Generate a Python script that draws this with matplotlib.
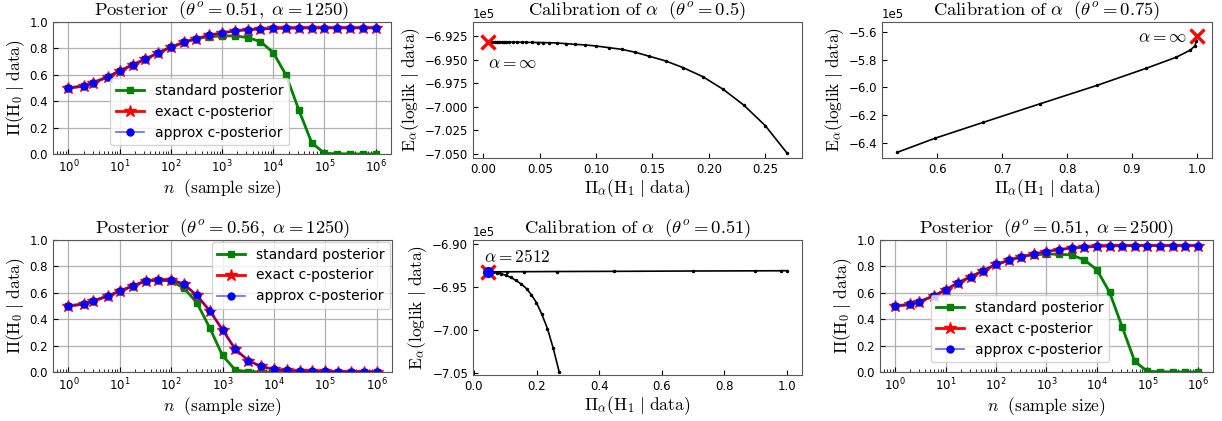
"""Posterior vs c-posterior, and calibration of alpha (six panels)."""

import matplotlib
matplotlib.use("Agg")
import matplotlib.pyplot as plt
import matplotlib.ticker as mticker
import numpy as np

plt.rcParams["mathtext.fontset"] = "cm"
plt.rcParams["font.family"] = "DejaVu Sans"
plt.rcParams["axes.edgecolor"] = "0.35"
plt.rcParams["xtick.direction"] = "in"
plt.rcParams["ytick.direction"] = "in"

# ---- posterior panels: sample sizes (4 per decade) ----
N_VALUES = [1, 2, 3, 6, 10, 18, 32, 56, 100, 178, 316, 562, 1000, 1778, 3162,
            5623, 10000, 17783, 31623, 56234, 100000, 177828, 316228, 562341, 1000000]

# theta=0.51, alpha=1250
STD_051_1250 = [0.50, 0.515, 0.54, 0.585, 0.63, 0.675, 0.72, 0.765, 0.81, 0.845, 0.875,
                0.888, 0.895, 0.895, 0.882, 0.852, 0.768, 0.598, 0.333, 0.086, 0.005,
                0.002, 0.001, 0.0, 0.0]
EXACT_051_1250 = [0.50, 0.515, 0.54, 0.585, 0.63, 0.675, 0.72, 0.765, 0.81, 0.845, 0.875,
                  0.90, 0.918, 0.932, 0.941, 0.947, 0.951, 0.953, 0.954, 0.955, 0.955,
                  0.955, 0.955, 0.955, 0.955]
APPROX_051_1250 = EXACT_051_1250

# theta=0.56, alpha=1250
STD_056_1250 = [0.50, 0.515, 0.538, 0.577, 0.613, 0.652, 0.69, 0.695, 0.69, 0.635, 0.525,
                0.335, 0.125, 0.015, 0.003, 0.0, 0.0, 0.0, 0.0, 0.0, 0.0, 0.0, 0.0, 0.0, 0.0]
EXACT_056_1250 = [0.50, 0.515, 0.538, 0.577, 0.613, 0.652, 0.69, 0.695, 0.70, 0.665, 0.58,
                  0.465, 0.32, 0.172, 0.087, 0.042, 0.02, 0.012, 0.008, 0.005, 0.004,
                  0.003, 0.002, 0.002, 0.001]
APPROX_056_1250 = EXACT_056_1250

# theta=0.51, alpha=2500
STD_051_2500 = [0.50, 0.512, 0.532, 0.578, 0.622, 0.677, 0.722, 0.768, 0.815, 0.845, 0.874,
                0.888, 0.893, 0.893, 0.886, 0.850, 0.774, 0.605, 0.342, 0.080, 0.005,
                0.002, 0.001, 0.0, 0.0]
EXACT_051_2500 = [0.50, 0.512, 0.532, 0.578, 0.622, 0.677, 0.722, 0.768, 0.815, 0.845, 0.874,
                  0.894, 0.912, 0.928, 0.939, 0.945, 0.952, 0.955, 0.957, 0.958, 0.958,
                  0.958, 0.958, 0.958, 0.958]
APPROX_051_2500 = EXACT_051_2500

# ---- calibration panels (E in units of 1e5) ----
CAL050_X = [0.004, 0.006, 0.008, 0.010, 0.012, 0.014, 0.016, 0.018, 0.020, 0.023,
            0.026, 0.030, 0.034, 0.038, 0.043, 0.048, 0.053, 0.058, 0.065, 0.073,
            0.081, 0.0905, 0.100, 0.111, 0.1226, 0.1347, 0.1473, 0.1617, 0.1772,
            0.1946, 0.2126, 0.2311, 0.2503, 0.2695]
CAL050_E = [-6.9313, -6.9313, -6.9313, -6.9313, -6.9313, -6.9313, -6.9314, -6.9314,
            -6.9314, -6.9315, -6.9315, -6.9316, -6.9316, -6.9317, -6.9318, -6.9319,
            -6.9320, -6.9321, -6.9324, -6.9331, -6.9338, -6.9345, -6.9356, -6.9373,
            -6.9391, -6.9422, -6.9465, -6.9514, -6.9585, -6.9680, -6.9813, -6.9982,
            -7.0201, -7.0490]

CAL075_X = [0.538, 0.597, 0.671, 0.758, 0.846, 0.921, 0.968, 0.990, 0.997, 0.999, 1.0]
CAL075_E = [-6.464, -6.362, -6.249, -6.117, -5.985, -5.864, -5.784, -5.732, -5.701,
            -5.666, -5.631]

CAL051_X_LOW = [0.0447, 0.047, 0.050, 0.053, 0.0587, 0.0747, 0.0853, 0.1013, 0.1173,
                0.1333, 0.1515, 0.1685, 0.1835, 0.1995, 0.2165, 0.2347, 0.2528, 0.272]
CAL051_E_LOW = [-6.9323, -6.9323, -6.9324, -6.9325, -6.9327, -6.9335, -6.9343, -6.9362,
                -6.9386, -6.9421, -6.9465, -6.9520, -6.9591, -6.9681, -6.9815, -6.9984,
                -7.0209, -7.0488]
CAL051_X_HIGH = [0.0447, 0.050, 0.060, 0.080, 0.107, 0.160, 0.265, 0.446, 0.699, 0.899,
                 0.982, 1.0]
CAL051_E_HIGH = [-6.9323, -6.9323, -6.9322, -6.9322, -6.9321, -6.9320, -6.9318, -6.9316,
                 -6.9312, -6.9310, -6.9309, -6.9308]
SCALE = 1e5

YLAB_POST = r"$\Pi(\mathrm{H}_0\ |\ \mathrm{data})$"
XLAB_POST = r"$n\ \ (\mathrm{sample\ size})$"
YLAB_CAL = r"$\mathrm{E}_\alpha(\mathrm{loglik}\ |\ \mathrm{data})$"
XLAB_CAL = r"$\Pi_\alpha(\mathrm{H}_1\ |\ \mathrm{data})$"

TITLE_FS = 13.4
LABEL_FS = 12.5
TICK_FS = 8.5


def posterior_panel(ax, std, exact, approx, title, legend_kw):
    ax.plot(N_VALUES, std, color="green", marker="s", ms=4.5, lw=2,
            label="standard posterior")
    ax.plot(N_VALUES, exact, color="red", marker="*", ms=9, lw=2,
            label="exact c-posterior")
    ax.plot(N_VALUES, approx, color=(0, 0, 1, 0.6), marker="o", ms=5,
            mfc="blue", mec="blue", lw=1.2, label="approx c-posterior")
    ax.set_xscale("log")
    ax.set_ylim(0, 1)
    ax.set_xticks([10.0 ** k for k in range(7)])
    ax.yaxis.set_major_locator(mticker.MultipleLocator(0.2))
    ax.grid(True, color="#b0b0b0", lw=0.9)
    ax.set_axisbelow(True)
    ax.tick_params(labelsize=TICK_FS)
    ax.set_title(title, fontsize=TITLE_FS, pad=2)
    ax.set_xlabel(XLAB_POST, fontsize=LABEL_FS, labelpad=1)
    ax.set_ylabel(YLAB_POST, fontsize=LABEL_FS, labelpad=2)
    ax.legend(fontsize=10, borderaxespad=0, handlelength=2.0, **legend_kw)


def calib_panel(ax, title, ystep, ylim):
    ax.set_title(title, fontsize=TITLE_FS, pad=2)
    ax.set_xlabel(XLAB_CAL, fontsize=LABEL_FS, labelpad=1)
    ax.set_ylabel(YLAB_CAL, fontsize=LABEL_FS, labelpad=2)
    ax.yaxis.set_major_locator(mticker.MultipleLocator(ystep * SCALE))
    ax.ticklabel_format(axis="y", style="sci", scilimits=(0, 0), useOffset=False)
    ax.set_ylim(ylim[0] * SCALE, ylim[1] * SCALE)
    ax.tick_params(labelsize=TICK_FS)
    ax.yaxis.get_offset_text().set_fontsize(TICK_FS)


def e(vals):
    return np.array(vals) * SCALE


fig = plt.figure(figsize=(12.22, 4.21), dpi=100)

# top-left
ax = fig.add_axes([0.0434, 0.6342, 0.2766, 0.3135])
posterior_panel(ax, STD_051_1250, EXACT_051_1250, APPROX_051_1250,
                r"$\mathrm{Posterior}\ \ (\theta^o = 0.51,\ \alpha = 1250)$",
                dict(loc="lower left", bbox_to_anchor=(0.17, 0.065)))

# top-middle
ax = fig.add_axes([0.3871, 0.6247, 0.2692, 0.323])
ax.plot(CAL050_X, e(CAL050_E), color="black", marker=".", ms=3, lw=1.2)
ax.plot(CAL050_X[0], CAL050_E[0] * SCALE, marker="x", color="red", ms=10, mew=2.4)
ax.text(0.004, -6.954 * SCALE, r"$\alpha = \infty$", fontsize=12.5, va="center")
calib_panel(ax, r"$\mathrm{Calibration\ of}\ \alpha\ \ (\theta^o = 0.5)$",
            0.025, (-7.0542, -6.9102))

# top-right
ax = fig.add_axes([0.7218, 0.6247, 0.270, 0.3230])
ax.plot(CAL075_X, e(CAL075_E), color="black", marker=".", ms=3, lw=1.2)
ax.plot(CAL075_X[-1], CAL075_E[-1] * SCALE, marker="x", color="red", ms=10, mew=2.4)
ax.text(0.909, -5.642 * SCALE, r"$\alpha = \infty$", fontsize=12.5, va="center")
calib_panel(ax, r"$\mathrm{Calibration\ of}\ \alpha\ \ (\theta^o = 0.75)$",
            0.2, (-6.504, -5.532))

# bottom-left
ax = fig.add_axes([0.0434, 0.1164, 0.2774, 0.3135])
posterior_panel(ax, STD_056_1250, EXACT_056_1250, APPROX_056_1250,
                r"$\mathrm{Posterior}\ \ (\theta^o = 0.56,\ \alpha = 1250)$",
                dict(loc="upper right", bbox_to_anchor=(0.995, 0.985)))

# bottom-middle
ax = fig.add_axes([0.3871, 0.1093, 0.2692, 0.3207])
ax.plot(CAL051_X_HIGH, e(CAL051_E_HIGH), color="black", marker=".", ms=3, lw=1.2)
ax.plot(CAL051_X_LOW, e(CAL051_E_LOW), color="black", marker=".", ms=3, lw=1.2)
ax.plot(CAL051_X_LOW[0], CAL051_E_LOW[0] * SCALE, marker="x", color="red", ms=10, mew=2.4)
ax.plot(CAL051_X_LOW[0], CAL051_E_LOW[0] * SCALE, marker="o", color="blue", ms=7)
ax.text(0.033, -6.9148 * SCALE, r"$\alpha = 2512$", fontsize=12.5, va="center")
calib_panel(ax, r"$\mathrm{Calibration\ of}\ \alpha\ \ (\theta^o = 0.51)$",
            0.05, (-7.0525, -6.895))

# bottom-right
ax = fig.add_axes([0.7201, 0.1164, 0.2725, 0.3135])
posterior_panel(ax, STD_051_2500, EXACT_051_2500, APPROX_051_2500,
                r"$\mathrm{Posterior}\ \ (\theta^o = 0.51,\ \alpha = 2500)$",
                dict(loc="lower left", bbox_to_anchor=(0.152, 0.072)))

fig.savefig("out.png", dpi=100)
